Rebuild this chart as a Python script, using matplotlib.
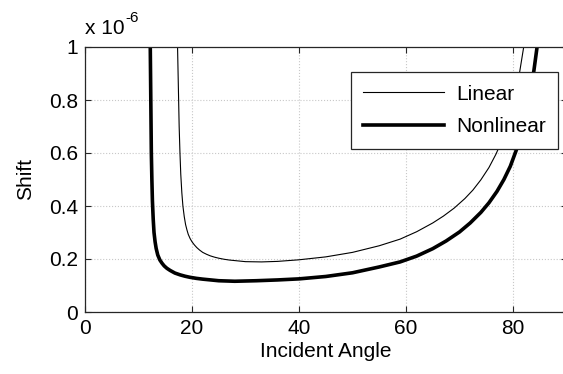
import matplotlib
matplotlib.use("Agg")
import matplotlib.pyplot as plt

# Data (shift in units of 1e-6)
lin_x = [17.3, 17.4, 17.5, 17.6, 17.75, 17.9, 18.1, 18.3, 18.55, 18.8, 19.05, 19.3, 19.65,
         20.0, 20.45, 20.9, 21.4, 22.0, 22.7, 23.4, 24.2, 25.0, 26.0, 27.0, 28.5,
         30.0, 33.0, 36.0, 40.0, 45.0, 50.0, 55.0, 58.9, 62.0, 65.0, 67.0, 69.0, 71.0,
         72.5, 74.0, 75.5, 76.8, 78.0, 79.0, 80.0, 81.0, 82.0]
lin_y = [1.0, 0.9, 0.8, 0.7, 0.6, 0.52, 0.45, 0.4, 0.36, 0.33, 0.31, 0.293, 0.277,
         0.265, 0.253, 0.243, 0.234, 0.225, 0.218, 0.212, 0.207, 0.203, 0.199, 0.196, 0.193,
         0.19, 0.189, 0.191, 0.197, 0.208, 0.225, 0.25, 0.275, 0.303, 0.336, 0.362, 0.392, 0.428,
         0.46, 0.499, 0.545, 0.595, 0.65, 0.71, 0.78, 0.875, 1.0]

non_x = [12.2, 12.25, 12.3, 12.35, 12.4, 12.5, 12.6, 12.75, 12.9, 13.1, 13.3, 13.6, 14.0,
         14.4, 14.8, 15.3, 15.9, 16.8, 17.8, 18.7, 19.6, 20.8, 22.0, 23.5,
         25.0, 28.0, 32.0, 36.0, 40.0, 45.0, 50.0, 55.0, 58.9, 62.0, 65.0, 67.5, 70.0,
         72.0, 74.0, 75.5, 77.0, 78.3, 79.5, 80.6, 81.5, 82.4, 83.2, 83.9, 84.5]
non_y = [1.0, 0.9, 0.8, 0.7, 0.6, 0.5, 0.42, 0.35, 0.3, 0.265, 0.24, 0.215, 0.196,
         0.184, 0.174, 0.165, 0.157, 0.147, 0.14, 0.135, 0.131, 0.127, 0.124, 0.121,
         0.118, 0.116, 0.118, 0.121, 0.125, 0.134, 0.148, 0.17, 0.189, 0.211, 0.239, 0.268, 0.302,
         0.336, 0.376, 0.412, 0.455, 0.5, 0.55, 0.61, 0.67, 0.75, 0.83, 0.91, 1.0]

x_ticks = [0, 20, 40, 60, 80]
y_ticks = [0, 0.2, 0.4, 0.6, 0.8, 1.0]
y_ticklabels = ["0", "0.2", "0.4", "0.6", "0.8", "1"]

plt.rcParams['font.family'] = ['Liberation Sans', 'DejaVu Sans']

W, H = 563, 374
fig = plt.figure(figsize=(W / 100, H / 100), dpi=100)
left, right, top, bottom = 85, 566.5, 47, 312
ax = fig.add_axes([left / W, (H - bottom) / H, (right - left) / W, (bottom - top) / H])

ax.plot(lin_x, lin_y, color='black', lw=0.8, label='Linear', solid_joinstyle='round')
ax.plot(non_x, non_y, color='black', lw=2.6, label='Nonlinear', solid_joinstyle='round')

ax.set_xlim(0, 90)
ax.set_ylim(0, 1)
ax.set_xticks(x_ticks)
ax.set_yticks(y_ticks)
ax.set_yticklabels(y_ticklabels)
ax.grid(True, color='#c8c8c8', linestyle=':', linewidth=0.8)
ax.tick_params(direction='in', length=4, width=0.8, top=True, right=True,
               labelsize=15, pad=5, colors='#262626', labelcolor='black')
for s in ax.spines.values():
    s.set_color('#262626')
    s.set_linewidth(0.9)

ax.set_xlabel('Incident Angle', fontsize=15, labelpad=3)
ax.set_ylabel('Shift', fontsize=15, labelpad=10)

fig.text(85 / W, (H - 34) / H, 'x 10', fontsize=15, ha='left', va='baseline')
fig.text(125 / W, (H - 22) / H, '-6', fontsize=11, ha='left', va='baseline')

leg = ax.legend(loc='upper right', bbox_to_anchor=((558 - left) / (right - left), (bottom - 72) / (bottom - top)),
                fontsize=15, fancybox=False, framealpha=1, edgecolor='#262626',
                handlelength=3.9, borderpad=0.6, labelspacing=0.65, handletextpad=0.55,
                borderaxespad=0)
leg.get_frame().set_linewidth(0.9)

fig.savefig('out.png', dpi=100)
